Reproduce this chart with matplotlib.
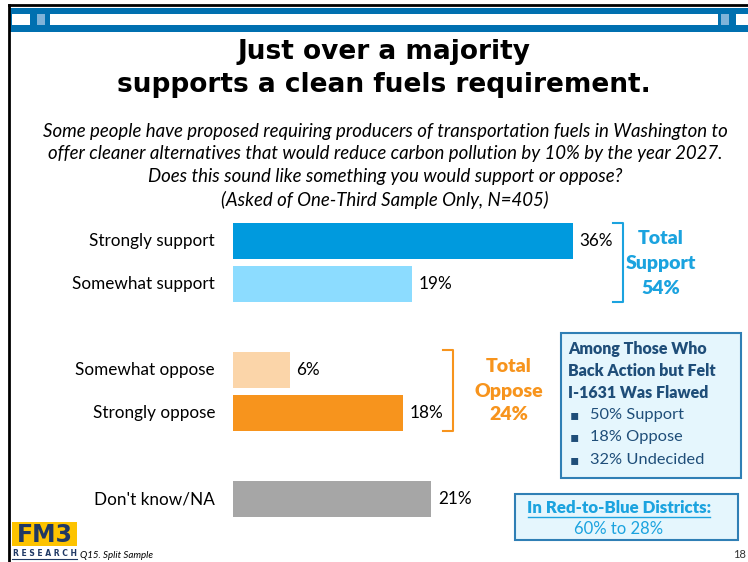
import matplotlib
matplotlib.use('Agg')
import matplotlib.pyplot as plt
from matplotlib.patches import Rectangle
from matplotlib.lines import Line2D

# данные
categories = ['Strongly support', 'Somewhat support', 'Somewhat oppose',
              'Strongly oppose', "Don't know/NA"]
values = [36, 19, 6, 18, 21]
slots = [0, 1, 3, 4, 6]
bar_colors = ['#009ADE', '#8CDCFF', '#FBD5A9', '#F7941D', '#A6A6A6']
total_support = 54
total_oppose = 24
flawed_lines = ['50% Support', '18% Oppose', '32% Undecided']
red_blue = (60, 28)

W, H = 748, 562
BLUE = '#1BA3DF'
ORANGE = '#F7941D'
NAVY = '#1F4E79'
BOX_FILL = '#E5F6FD'
BOX_EDGE = '#2F7FB5'

plt.rcParams['font.family'] = ['Lato', 'DejaVu Sans']

fig = plt.figure(figsize=(W / 100, H / 100), dpi=100)


def fx(x):
    return x / W


def fy(y):
    return 1 - y / H


def ftext(x, y, s, **kw):
    kw.setdefault('va', 'center')
    return fig.text(fx(x), fy(y), s, **kw)


def frect(x0, y0, x1, y1, **kw):
    r = Rectangle((fx(x0), fy(y1)), fx(x1) - fx(x0), fy(y0) - fy(y1),
                  transform=fig.transFigure, **kw)
    fig.patches.append(r)
    return r


def fline(xs, ys, **kw):
    fig.lines.append(Line2D([fx(x) for x in xs], [fy(y) for y in ys],
                            transform=fig.transFigure, **kw))


# рамка и шапка
fline([9, 9], [5, 562], color='black', lw=2)
fline([9, 748], [5, 5], color='black', lw=2)
frect(10, 8, 748, 32, color='#0070B0', lw=0)
frect(12, 14, 30, 25, color='white', lw=0)
frect(37, 14, 45, 25, color='#7FB3D9', lw=0)
frect(50, 14, 718, 25, color='white', lw=0)
frect(721, 14, 729, 25, color='#7FB3D9', lw=0)
frect(736, 14, 748, 25, color='white', lw=0)

# заголовок
ftext(384, 52, 'Just over a majority', ha='center', fontsize=19,
      fontweight='bold', family='DejaVu Sans')
ftext(384, 85, 'supports a clean fuels requirement.', ha='center',
      fontsize=19, fontweight='bold', family='DejaVu Sans')

sub = ['Some people have proposed requiring producers of transportation fuels in Washington to',
       'offer cleaner alternatives that would reduce carbon pollution by 10% by the year 2027.',
       'Does this sound like something you would support or oppose?',
       '(Asked of One-Third Sample Only, N=405)']
for i, s in enumerate(sub):
    ftext(385, 131 + 23 * i, s, ha='center', fontsize=13.4, style='italic')

# бары
px_per = 9.44
ax = fig.add_axes([fx(233), fy(241 + 6.5 * 43), (W - 233) / W, 7.1 * 43 / H])
ax.barh(slots, values, height=0.84, color=bar_colors)
ax.set_xlim(0, (W - 233) / px_per)
ax.set_ylim(6.5, -0.6)
ax.axis('off')
for s, v, c in zip(slots, values, categories):
    ax.text(v + 0.7, s, f'{v}%', va='center', ha='left', fontsize=12.3)
    ax.text(-1.9, s, c, va='center', ha='right', fontsize=12.3)

# скобки
fline([613, 623, 623, 613], [223, 223, 302, 302], color=BLUE, lw=1.5)
for i, s in enumerate(['Total', 'Support', f'{total_support}%']):
    ftext(661, 239 + 25 * i, s, ha='center', fontsize=14, fontweight='heavy',
          color=BLUE)

fline([443, 453, 453, 443], [350, 350, 431, 431], color=ORANGE, lw=1.5)
for i, s in enumerate(['Total', 'Oppose', f'{total_oppose}%']):
    ftext(509, 367 + 24 * i, s, ha='center', fontsize=14, fontweight='heavy',
          color=ORANGE)

# блок 1
frect(561, 333, 741, 478, facecolor=BOX_FILL, edgecolor=BOX_EDGE, lw=1.5)
for i, s in enumerate(['Among Those Who', 'Back Action but Felt',
                       'I-1631 Was Flawed']):
    ftext(568, 349 + 22 * i, s, ha='left', fontsize=11.5, fontweight='heavy',
          color=NAVY)
for i, s in enumerate(flawed_lines):
    ftext(570, 415 + 22.5 * i, '\u25aa', ha='left', fontsize=10, color=NAVY,
          family='DejaVu Sans')
    ftext(590, 415 + 22.5 * i, s, ha='left', fontsize=11.8, color=NAVY)

# блок 2
frect(515, 494, 738, 540, facecolor=BOX_FILL, edgecolor=BOX_EDGE, lw=1.5)
ftext(619, 508, 'In Red-to-Blue Districts:', ha='center', fontsize=12.2,
      fontweight='heavy', color=BLUE)
fline([528, 710], [517, 517], color=BLUE, lw=1)
ftext(619, 529, f'{red_blue[0]}% to {red_blue[1]}%', ha='center',
      fontsize=12, color=BLUE)

# логотип
frect(12, 522, 77, 546, color='#FDC300', lw=0)
ftext(44.5, 535, 'FM3', ha='center', fontsize=17, fontweight='bold',
      color='#1F3864', family='DejaVu Sans')
ftext(45, 553, 'R E S E A R C H', ha='center', fontsize=5.5, fontweight='bold',
      color='#1F3864', family='DejaVu Sans')
fline([12, 77], [559, 559], color='#1F3864', lw=0.8)
ftext(80, 555, 'Q15. Split Sample', ha='left', fontsize=7, style='italic')
ftext(740, 555, '18', ha='center', fontsize=8, color='#333333')

fig.savefig('out.png', dpi=100)
